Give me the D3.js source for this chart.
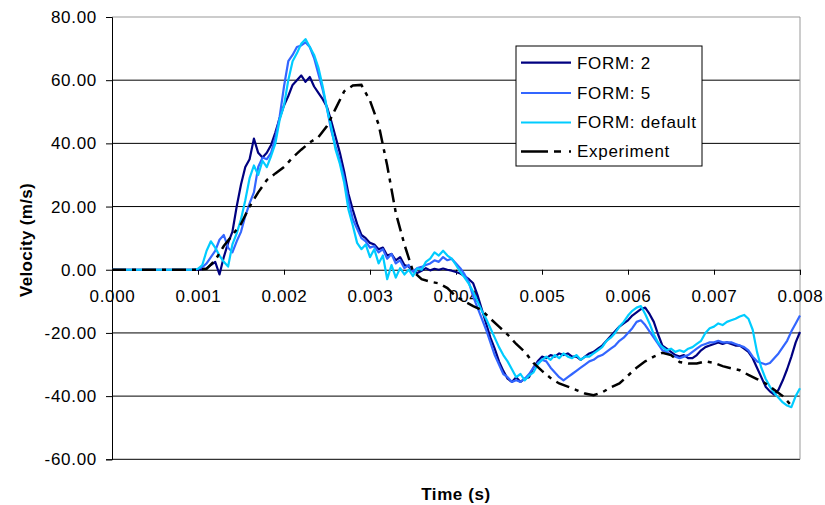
<!DOCTYPE html>
<html>
<head>
<meta charset="utf-8">
<script src="https://cdn.jsdelivr.net/npm/d3@7"></script>
<style>
  body { margin: 0; background: #fff; }
  svg { display: block; font-family: "Liberation Sans", Arial, sans-serif; }
</style>
</head>
<body>
<svg id="chart" width="825" height="505"></svg>
<script>
// ---- data (time step 0.00005 s, t = 0 ... 0.008 s) ----
const simTimeStep = 0.00005;
const form2 = [
  0,0,0,0,0,0,0,0,0,0, 0,0,0,0,0,0,0,0,0,0,
  0,0.2,0.4,1.5,2.5,-1.5,4,8.5,12,20,
  27,32.5,35,41.5,37,35.5,37,39.5,43.5,48,
  52,55,58.5,60,61.5,59.5,61,58,56,54,
  51.5,47,42,37,31,24,19,14.5,11,10,
  8.5,8,6.5,7,4.5,5,3,4,1.5,1,
  -0.5,-1,-0.3,0.5,-0.2,0.3,0,0.4,0,-0.3,
  -0.7,-1.2,-2,-3,-4.3,-8,-12.5,-17,-21.5,-25,
  -29,-32,-34.5,-35.5,-34,-35.5,-34.5,-34,-31,-29,
  -27.5,-28,-27,-27.5,-26.5,-27,-26.5,-27.5,-27.5,-28.5,
  -27.5,-26.5,-26,-25,-24,-22.5,-21,-19.5,-18,-17,
  -16,-14.5,-13.5,-12.5,-12,-14,-16.5,-20.5,-24,-25,
  -26,-27,-27.5,-27,-28,-28,-27,-25.5,-24.5,-24,
  -23.5,-23,-23.5,-23,-23.5,-24,-24,-25,-26,-28,
  -31,-34,-37,-38.5,-39.5,-38,-35,-31.5,-27.5,-23,
  -19.7
];
const form5 = [
  0,0,0,0,0,0,0,0,0,0, 0,0,0,0,0,0,0,0,0,0,
  0.3,0.8,2,4,6,9.5,11,7,5.5,9,
  12,17,21,24.5,32.5,35.5,35,37,42,48.5,
  58,66,68,70.5,71,72,70.5,67,62,57,
  51,44,39,34.5,29,22,16,13,10,9,
  7,7.5,5.5,6.5,3.5,5,2,3,0.5,1.5,
  -0.5,0.5,0.9,1.5,2,3,2.5,4,3,3.5,
  2,0.5,-1.5,-4,-8.5,-12,-15.5,-19,-23,-27,
  -30,-33,-34,-35.5,-35,-35.5,-34.5,-33,-31,-29.5,
  -28.5,-29,-31,-32.5,-34,-35,-34,-33,-32,-31,
  -30,-29,-28.5,-27.5,-27,-26,-25,-24,-22.5,-21.5,
  -20,-18.5,-16.5,-16,-17.5,-19.5,-21.5,-23.5,-25.5,-26,
  -27,-27.5,-28,-27.5,-27,-26,-25,-24,-23.5,-23,
  -23,-22.5,-23,-23,-23,-23.5,-24,-24.5,-25.5,-27.5,
  -29,-29.5,-30,-29.5,-28,-26.5,-24.5,-22.5,-19.5,-17,
  -14.5
];
const formDefault = [
  0,0,0,0,0,0,0,0,0,0, 0,0,0,0,0,0,0,0,0,0,
  0.3,1.5,6,9,7,4.5,2.5,1,8,11.5,
  16,22,29,33,30,34.5,32.5,36,40,47.5,
  52,60,66,68.5,71.5,73,70.5,68,64,58,
  51,45,38,33.5,27.5,19,14,8.5,6.5,8,
  4,6.5,2,4.5,-3,1.5,-2.5,0.5,-1.5,0,
  -2,0.5,0,2.5,3.5,5.5,4.5,6,4.5,3.5,
  1.5,-0.7,-2.5,-4.5,-7,-10,-13,-15.5,-18.5,-21.5,
  -24.5,-27,-29,-31.5,-34,-33,-35,-33.5,-32.5,-30,
  -28.5,-27.5,-28.5,-27,-28,-26.5,-27.5,-28,-27,-28.5,
  -27.5,-27.5,-26.5,-25.5,-24.5,-22.5,-21.5,-20,-18,-16.5,
  -14.5,-13,-12,-11.5,-14,-17,-20.5,-23,-24.5,-25.5,
  -25,-26,-25.5,-26,-25,-24.5,-23.5,-22.5,-20,-18.5,
  -18,-17,-17.5,-16.5,-16,-15.5,-14.8,-14.3,-15.5,-19,
  -26,-31,-34.5,-37,-39,-40.5,-42,-43,-43.5,-40,
  -37.5
];
// experiment (time step 0.0001 s, t = 0 ... 0.0079 s)
const expTimeStep = 0.0001;
const experiment = [
  0,0,0,0,0,0,0,0,0,0,
  0,0.3,3,7.5,11,14.5,20,24.5,28.4,30.5,
  32.5,35.5,38,40.3,42,45.5,51,56.5,58.3,58.5,
  53.5,46,33,18,8,-0.5,-3,-3.8,-4.3,-5.8,
  -8.5,-10,-11.5,-12.8,-15.5,-18,-20.5,-23.5,-26,-29.5,
  -32,-34.3,-36,-37,-38.1,-39.2,-39.7,-38.8,-37.2,-36,
  -33.5,-31,-29,-27.5,-26.3,-27,-29.2,-29.7,-29.7,-29,
  -29.5,-30.5,-31.2,-31.8,-33.3,-34.6,-36,-38,-40,-43
];
const seriesNames = ["FORM: 2", "FORM: 5", "FORM: default", "Experiment"];
const seriesColors = ["#000080", "#3366FF", "#00CCFF", "#000000"];
const xTicks = [0, 0.001, 0.002, 0.003, 0.004, 0.005, 0.006, 0.007, 0.008];
const yTicks = [-60, -40, -20, 0, 20, 40, 60, 80];
const xTitle = "Time (s)";
const yTitle = "Velocity (m/s)";

// ---- drawing ----
const FONT = "Liberation Sans, Arial, sans-serif";
const locale = d3.formatLocale({ decimal: ".", thousands: ",", grouping: [3], currency: ["", ""], minus: "-" });
const svg = d3.select("#chart");
const x = d3.scaleLinear().domain([0, 0.008]).range([112, 800]);
const y = d3.scaleLinear().domain([-60, 80]).range([459.3, 17]);

// gridlines
svg.append("g").selectAll("line").data(yTicks.filter(d => d !== 0 && d !== 80)).join("line")
  .attr("x1", x(0)).attr("x2", x(0.008))
  .attr("y1", d => y(d)).attr("y2", d => y(d))
  .attr("stroke", "#000").attr("stroke-width", 1);
// plot border (top/right)
svg.append("path")
  .attr("d", `M${x(0)},${y(80)}H${x(0.008)}V${y(-60)}`)
  .attr("fill", "none").attr("stroke", "#999").attr("stroke-width", 1);

// y axis
const yAxis = svg.append("g").attr("transform", `translate(${x(0)},0)`)
  .call(d3.axisLeft(y).tickValues(yTicks).tickSize(6).tickPadding(9).tickFormat(locale.format(".2f")));
yAxis.select(".domain").attr("stroke", "#000");
yAxis.selectAll(".tick line").attr("stroke", "#000");
yAxis.selectAll("text").attr("font-size", 17).attr("letter-spacing", "0.7px").attr("fill", "#000")
  .attr("font-family", FONT);

// x axis at zero
const xAxis = svg.append("g").attr("transform", `translate(0,${y(0)})`)
  .call(d3.axisBottom(x).tickValues(xTicks).tickSize(5).tickPadding(15).tickFormat(locale.format(".3f")));
xAxis.select(".domain").attr("stroke", "#000");
xAxis.selectAll(".tick line").attr("stroke", "#000");
xAxis.selectAll("text").attr("font-size", 17).attr("letter-spacing", "0.7px").attr("fill", "#000")
  .attr("font-family", FONT);

// lines
const simLine = d3.line().x((d, i) => x(i * simTimeStep)).y(d => y(d));
const expLine = d3.line().x((d, i) => x(i * expTimeStep)).y(d => y(d));
const sims = [form2, form5, formDefault];
sims.forEach((s, k) => {
  svg.append("path").datum(s).attr("d", simLine)
    .attr("fill", "none").attr("stroke", seriesColors[k]).attr("stroke-width", 2.2)
    .attr("stroke-linejoin", "round");
});
svg.append("path").datum(experiment).attr("d", expLine)
  .attr("fill", "none").attr("stroke", seriesColors[3]).attr("stroke-width", 2.5)
  .attr("stroke-dasharray", "14,6,4,6");

// axis titles
svg.append("text").attr("x", 456).attr("y", 500).attr("text-anchor", "middle")
  .attr("font-size", 17).attr("letter-spacing", "0.6px").attr("font-weight", "bold").text(xTitle);
svg.append("text").attr("transform", "translate(32,240) rotate(-90)").attr("text-anchor", "middle")
  .attr("font-size", 17).attr("letter-spacing", "0.3px").attr("font-weight", "bold").text(yTitle);

// legend
const lg = svg.append("g");
lg.append("rect").attr("x", 516).attr("y", 46).attr("width", 186).attr("height", 120)
  .attr("fill", "#fff").attr("stroke", "#000").attr("stroke-width", 1);
const legendY = [62.7, 93, 122.5, 151.5];
seriesNames.forEach((n, k) => {
  const ln = lg.append("line").attr("x1", 521).attr("x2", 571)
    .attr("y1", legendY[k]).attr("y2", legendY[k])
    .attr("stroke", seriesColors[k]).attr("stroke-width", k === 3 ? 2.5 : 2.2);
  if (k === 3) ln.attr("stroke-dasharray", "27,6,7,8,4,20");
  lg.append("text").attr("x", 577).attr("y", legendY[k]).attr("dy", "0.35em")
    .attr("font-size", 17).attr("letter-spacing", "0.7px").text(n);
});
</script>
</body>
</html>
